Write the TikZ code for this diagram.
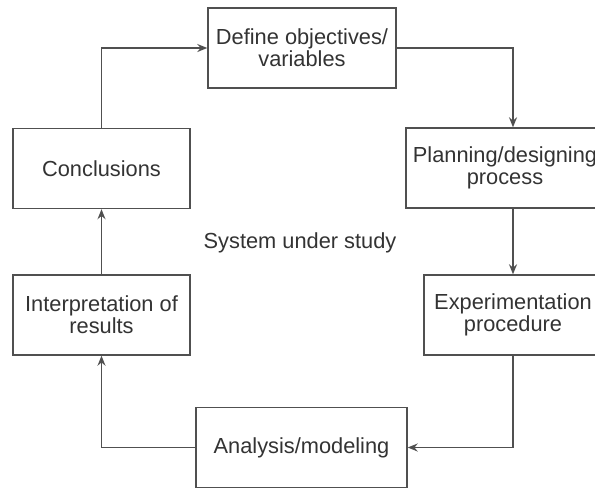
\documentclass[tikz,border=0pt]{standalone}
\usepackage{fontspec}
\setmainfont{Liberation Sans}
\usetikzlibrary{arrows.meta}
\definecolor{ink}{HTML}{333333}
\definecolor{linecol}{HTML}{505050}
\begin{document}
\begin{tikzpicture}[x=1pt,y=-1pt,
  box/.style={draw=linecol,line width=1.4pt,rectangle,minimum height=80pt,inner sep=0pt,
    align=center,text=ink,font=\fontsize{21.8}{22}\selectfont},
  conn/.style={draw=linecol,line width=1.4pt,-{Stealth[length=10pt,width=8pt,fill=ink]}}]
\useasboundingbox (0,0) rectangle (595,488);
\clip (0,0) rectangle (595,488);
\fill[white] (0,0) rectangle (595,488);
\node[box,minimum width=188pt] (def) at (302,48) {Define objectives/\\variables};
\node[box,minimum width=198pt] (plan) at (505,168) {Planning/designing\\process};
\node[box,minimum width=177pt] (conc) at (101.5,168.5) {Conclusions};
\node[box,minimum width=177pt] (interp) at (101.5,315) {Interpretation of\\results};
\node[box,minimum width=178pt] (exp) at (513,315) {Experimentation\\procedure};
\node[box,minimum width=211pt] (ana) at (301.5,447.5) {Analysis/modeling};
\node[text=ink,font=\fontsize{21.8}{22}\selectfont] (sys) at (300,243) {System under study};
\coordinate (planin) at ([xshift=8pt]plan.north);
\coordinate (planout) at ([xshift=8pt]plan.south);
\draw[conn] (def.east) -| (planin);
\draw[conn] (planout) -- (exp.north);
\draw[conn] (exp.south) |- (ana.east);
\draw[conn] (ana.west) -| (interp.south);
\draw[conn] (interp.north) -- (conc.south);
\draw[conn] (conc.north) |- (def.west);
\end{tikzpicture}
\end{document}
